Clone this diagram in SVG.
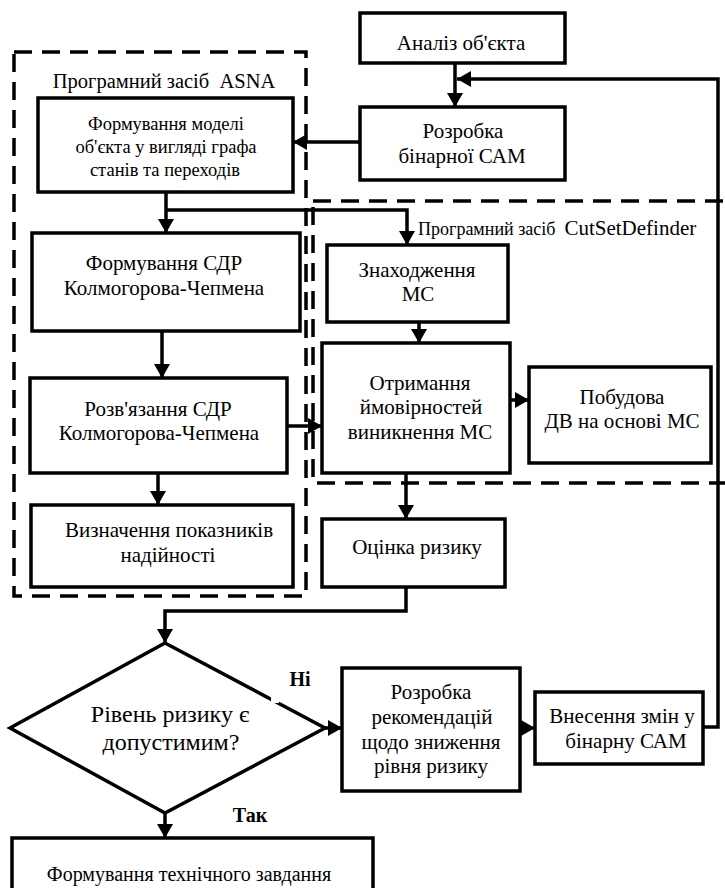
<svg xmlns="http://www.w3.org/2000/svg" width="725" height="888" viewBox="0 0 725 888" font-family="'Liberation Serif', 'Times New Roman', serif">
<defs>
<style>
.box{fill:#fff;stroke:#000;stroke-width:3.5}
.dash{fill:none;stroke:#000;stroke-width:3.5;stroke-dasharray:18 10}
.con{fill:none;stroke:#000;stroke-width:3.5}
.arr{marker-end:url(#ah)}
text{font-family:'Liberation Serif','Times New Roman',serif;fill:#000;text-anchor:middle}
.t18{font-size:18.5px}
.t21{font-size:21px}
.t24{font-size:24px}
.lbl{font-size:20px;font-weight:bold}
</style>
<marker id="ah" markerUnits="userSpaceOnUse" viewBox="0 0 14 16" refX="14" refY="8" markerWidth="14" markerHeight="16" orient="auto">
<path d="M0,0 L14,8 L0,16 Z" fill="#000"/>
</marker>
</defs>
<rect width="725" height="888" fill="#fff"/>

<g id="groups">
<rect id="asna-frame" class="dash" x="14" y="52" width="292" height="544"/>
<text x="164" y="88" style="font-size:20.5px" xml:space="preserve">Програмний засіб  ASNA</text>
<rect id="csd-frame" class="dash" x="313" y="201" width="430" height="282"/>
<text x="418" y="235" style="text-anchor:start" xml:space="preserve"><tspan style="font-size:18px">Програмний засіб  </tspan><tspan style="font-size:21px">CutSetDefinder</tspan></text>
</g>

<g id="connectors">
<path class="con arr" d="M455,63 V107"/>
<path class="con arr" d="M703,727 H718 V79 H457"/>
<path class="con arr" d="M360,142 H293"/>
<path class="con arr" d="M166,192 V233"/>
<path class="con arr" d="M166,210 H407 V245"/>
<path class="con arr" d="M162,331 V378"/>
<path class="con arr" d="M158,473 V505"/>
<path class="con arr" d="M287,426 H322"/>
<path class="con arr" d="M419,322 V343"/>
<path class="con arr" d="M510,400 H529"/>
<path class="con arr" d="M406,473 V519"/>
<path class="con arr" d="M406,587 V611 H165 V643"/>
<path class="con arr" d="M325,728 H342"/>
<path class="con arr" d="M520,728 H535"/>
<path class="con arr" d="M165,813 V838"/>
</g>

<g id="nodes">
<g id="n-analysis">
<rect class="box" x="360" y="13" width="205" height="50"/>
<text class="t21" x="461" y="50">Аналіз об'єкта</text>
</g>
<g id="n-cam">
<rect class="box" x="360" y="107" width="205" height="73"/>
<text class="t21" x="463" y="138">Розробка</text>
<text class="t21" x="462" y="163">бінарної САМ</text>
</g>
<g id="n-model">
<rect class="box" x="38" y="98" width="255" height="94"/>
<text class="t18" x="166" y="130">Формування моделі</text>
<text class="t18" x="166" y="153">об'єкта у вигляді графа</text>
<text class="t18" x="165" y="176">станів та переходів</text>
</g>
<g id="n-sdr">
<rect class="box" x="32" y="233" width="268" height="98"/>
<text class="t21" x="164" y="270">Формування СДР</text>
<text class="t21" x="164" y="295">Колмогорова-Чепмена</text>
</g>
<g id="n-solve">
<rect class="box" x="30" y="378" width="257" height="95"/>
<text class="t21" x="158" y="416">Розв'язання СДР</text>
<text class="t21" x="159" y="440">Колмогорова-Чепмена</text>
</g>
<g id="n-indicators">
<rect class="box" x="31" y="505" width="262" height="82"/>
<text class="t21" x="169" y="537">Визначення показників</text>
<text class="t21" x="168" y="562">надійності</text>
</g>
<g id="n-find">
<rect class="box" x="327" y="245" width="181" height="77"/>
<text class="t21" x="417" y="277">Знаходження</text>
<text class="t21" x="418" y="301">МС</text>
</g>
<g id="n-prob">
<rect class="box" x="322" y="343" width="188" height="130"/>
<text class="t21" x="420" y="390">Отримання</text>
<text class="t21" x="421" y="414">ймовірностей</text>
<text class="t21" x="420" y="439">виникнення МС</text>
</g>
<g id="n-tree">
<rect class="box" x="529" y="367" width="182" height="96"/>
<text class="t21" x="622" y="404">Побудова</text>
<text class="t21" x="622" y="428">ДВ на основі МС</text>
</g>
<g id="n-risk">
<rect class="box" x="322" y="519" width="183" height="68"/>
<text class="t21" x="417" y="554">Оцінка ризику</text>
</g>
<g id="n-decision">
<polygon class="box" points="165,643 325,728 165,813 10,728"/>
<text class="t24" x="170" y="722">Рівень ризику є</text>
<text class="t24" x="171" y="750">допустимим?</text>
<rect x="271" y="694" width="8" height="9" fill="#fff"/>
<text class="lbl" x="300" y="686">Ні</text>
<text class="lbl" x="250" y="822">Так</text>
</g>
<g id="n-recommend">
<rect class="box" x="342" y="668" width="178" height="123"/>
<text class="t21" x="431" y="699">Розробка</text>
<text class="t21" x="432" y="724">рекомендацій</text>
<text class="t21" x="431" y="749">щодо зниження</text>
<text class="t21" x="431" y="773">рівня ризику</text>
</g>
<g id="n-changes">
<rect class="box" x="535" y="692" width="168" height="72"/>
<text class="t21" x="622" y="723">Внесення змін у</text>
<text class="t21" x="626" y="748">бінарну САМ</text>
</g>
<g id="n-spec">
<rect class="box" x="12" y="838" width="361" height="70"/>
<text class="t21" x="189" y="881" style="font-size:20px">Формування технічного завдання</text>
</g>
</g>
</svg>
